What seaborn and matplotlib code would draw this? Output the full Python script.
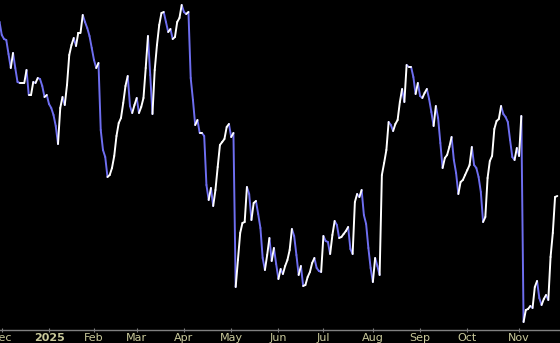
import numpy as np
import pandas as pd
import matplotlib
matplotlib.use("Agg")
import matplotlib.pyplot as plt
import seaborn as sns

# Trading calendar (NYSE holidays in the window)
holidays = ["2024-11-28", "2024-12-25", "2025-01-01", "2025-01-09", "2025-01-20",
            "2025-02-17", "2025-04-18", "2025-05-26", "2025-06-19", "2025-07-04",
            "2025-09-01"]
dates = pd.bdate_range("2024-11-27", "2025-11-26", freq="C", holidays=holidays)

values = [
    81.2, 80.8, 79.5, 79.1, 79.0, 77.6, 76.2, 77.7, 76.2, 74.8,
    74.7, 74.7, 74.7, 76.0, 73.5, 73.5, 74.8, 74.7, 75.2, 75.1,
    74.4, 73.3, 73.5, 72.6, 72.2, 71.5, 70.4, 68.6, 72.2, 73.3,
    72.5, 74.5, 77.5, 78.5, 79.2, 78.4, 79.7, 79.7, 81.5, 80.8,
    80.2, 79.4, 78.2, 77.0, 76.2, 76.7, 70.0, 68.0, 67.3, 65.3,
    65.5, 66.2, 67.4, 69.4, 70.7, 71.2, 72.7, 74.4, 75.4, 72.4,
    71.7, 72.5, 73.2, 71.7, 72.3, 73.2, 76.2, 79.4, 75.5, 71.6,
    76.0, 78.5, 80.5, 81.7, 81.8, 80.8, 79.8, 80.1, 79.1, 79.3,
    80.8, 81.2, 82.5, 81.8, 81.6, 81.8, 75.2, 73.0, 70.5, 71.0,
    69.7, 69.7, 69.4, 64.5, 63.0, 64.2, 62.4, 64.0, 66.3, 68.5,
    68.8, 69.1, 70.3, 70.6, 69.3, 69.7, 54.3, 57.0, 59.7, 60.7,
    60.8, 64.3, 63.6, 61.0, 62.7, 62.9, 61.6, 60.2, 57.2, 56.0,
    57.5, 59.2, 56.9, 58.2, 56.6, 55.1, 56.1, 55.6, 56.4, 57.0,
    58.0, 60.1, 59.4, 57.5, 55.5, 56.4, 54.4, 54.5, 55.3, 55.8,
    56.7, 57.2, 56.2, 55.9, 55.8, 59.4, 58.9, 58.8, 57.6, 59.5,
    60.9, 60.5, 59.2, 59.3, 59.6, 59.9, 60.3, 58.1, 57.6, 62.8,
    63.6, 63.3, 64.0, 61.5, 60.6, 58.2, 56.2, 54.8, 57.2, 56.4,
    55.5, 65.5, 66.7, 68.0, 70.8, 70.5, 69.9, 70.6, 71.0, 72.8,
    74.1, 72.8, 76.5, 76.3, 76.3, 75.3, 73.6, 74.7, 73.4, 73.2,
    73.7, 74.1, 73.1, 71.8, 70.4, 72.4, 71.2, 68.7, 66.2, 67.2,
    67.5, 68.3, 69.3, 67.0, 65.7, 63.6, 64.8, 65.0, 65.5, 66.0,
    66.5, 68.3, 66.5, 66.2, 65.3, 63.8, 60.8, 61.3, 65.2, 66.9,
    67.4, 70.1, 70.9, 71.1, 72.4, 71.6, 71.3, 70.8, 69.0, 67.3,
    67.0, 68.2, 67.4, 71.4, 50.8, 52.0, 52.1, 52.4, 52.2, 54.3,
    54.9, 53.2, 52.5, 53.1, 53.5, 53.0, 57.3, 59.7, 63.3, 63.4,
]
n = min(len(dates), len(values))
dates = dates[:n]
values = values[:n]

UP_COLOR = "#ffffff"
DOWN_COLOR = "#6e6ef0"

# Build two-point segments coloured by direction
rows = []
for j in range(n - 1):
    d = "up" if values[j + 1] >= values[j] else "down"
    rows.append((j, values[j], j, d))
    rows.append((j + 1, values[j + 1], j, d))
seg = pd.DataFrame(rows, columns=["x", "v", "seg", "dir"])

fig = plt.figure(figsize=(5.6, 3.43), dpi=100, facecolor="black")
ax = fig.add_axes([0, 13 / 343, 1, 330 / 343])
ax.set_facecolor("black")

sns.lineplot(data=seg, x="x", y="v", units="seg", hue="dir", estimator=None,
             palette={"up": UP_COLOR, "down": DOWN_COLOR}, legend=False,
             linewidth=1.4, sort=False, solid_capstyle="round", ax=ax)

ax.set_xlim(1.21, 250.2)
ax.set_ylim(50, 83)

# Month ticks at first trading day of each month
months = pd.Series(dates.month)
idx = [i for i in range(n) if i == 0 or months[i] != months[i - 1]]
idx = [i for i in idx if dates[i].day <= 5]
labels = []
for i in idx:
    if dates[i].month == 1:
        labels.append(str(dates[i].year))
    else:
        labels.append(dates[i].strftime("%b"))
ax.set_xticks(idx)
ax.set_xticklabels(labels)
for t in ax.get_xticklabels():
    if t.get_text().isdigit():
        t.set_fontweight("bold")

ax.set_yticks([])
ax.set_xlabel("")
ax.set_ylabel("")
for s in ["top", "left", "right"]:
    ax.spines[s].set_visible(False)
ax.spines["bottom"].set_color("#808080")
ax.spines["bottom"].set_linewidth(1.0)
ax.tick_params(axis="x", color="#808080", labelcolor="#c8c89a", length=3,
               direction="inout", pad=1, labelsize=8)

fig.savefig("out.png", dpi=100, facecolor="black")
